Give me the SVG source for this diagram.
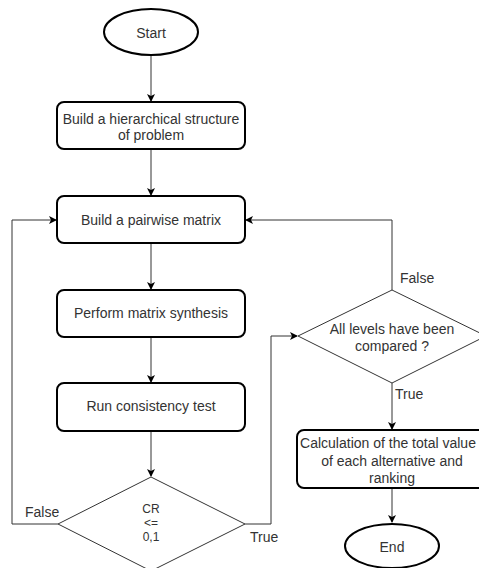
<svg xmlns="http://www.w3.org/2000/svg" width="479" height="568" viewBox="0 0 479 568">
<defs>
<marker id="arr" markerWidth="8" markerHeight="8" refX="7" refY="4" orient="auto" markerUnits="userSpaceOnUse">
<path d="M0,0 L8,4 L0,8 L2,4 Z" fill="#000"/>
</marker>
<style>
.box{fill:#fff;stroke:#000;stroke-width:2}
.dia{fill:#fff;stroke:#333;stroke-width:1}
.t{font-family:"Liberation Sans",Arial,sans-serif;font-size:14px;fill:#333;text-anchor:middle}
.s{font-size:12px}
.lbl{font-family:"Liberation Sans",Arial,sans-serif;font-size:14px;fill:#333}
.c{fill:none;stroke:#333;stroke-width:1}
</style>
</defs>
<rect width="479" height="568" fill="#fff"/>
<g id="connectors">
<path class="c" d="M151,55 V101" marker-end="url(#arr)"/>
<path class="c" d="M151,149 V195" marker-end="url(#arr)"/>
<path class="c" d="M151,243 V289" marker-end="url(#arr)"/>
<path class="c" d="M151,337 V382" marker-end="url(#arr)"/>
<path class="c" d="M151,431 V476" marker-end="url(#arr)"/>
<path class="c" d="M58,524 H12 V220 H56" marker-end="url(#arr)"/>
<path class="c" d="M245,524 H271 V336 H297" marker-end="url(#arr)"/>
<path class="c" d="M392,290 V220 H246" marker-end="url(#arr)"/>
<path class="c" d="M392,383 V429" marker-end="url(#arr)"/>
<path class="c" d="M392,488 V522" marker-end="url(#arr)"/>
<text class="lbl" x="25" y="517">False</text>
<text class="lbl" x="250" y="542">True</text>
<text class="lbl" x="400" y="283">False</text>
<text class="lbl" x="395" y="399">True</text>
</g>
<g id="start">
<ellipse class="box" cx="151" cy="32" rx="47" ry="23"/>
<text class="t" x="151" y="38">Start</text>
</g>
<g id="hierarchy">
<rect class="box" x="57" y="102" width="188" height="47" rx="7"/>
<text class="t" x="151" y="124">Build a hierarchical structure</text>
<text class="t" x="151" y="140">of problem</text>
</g>
<g id="pairwise">
<rect class="box" x="57" y="196" width="188" height="47" rx="7"/>
<text class="t" x="151" y="225">Build a pairwise matrix</text>
</g>
<g id="synthesis">
<rect class="box" x="57" y="290" width="188" height="47" rx="7"/>
<text class="t" x="151" y="318">Perform matrix synthesis</text>
</g>
<g id="consistency">
<rect class="box" x="57" y="383" width="188" height="48" rx="7"/>
<text class="t" x="151" y="411">Run consistency test</text>
</g>
<g id="cr">
<polygon class="dia" points="151,477 245,524 151,571 58,524"/>
<text class="t s" x="151" y="513">CR</text>
<text class="t s" x="151" y="527">&lt;=</text>
<text class="t s" x="151" y="541">0,1</text>
</g>
<g id="levels">
<polygon class="dia" points="392,290 486,336 392,383 298,336"/>
<text class="t" x="392" y="334">All levels have been</text>
<text class="t" x="392" y="351">compared ?</text>
</g>
<g id="calc">
<rect class="box" x="297" y="430" width="190" height="58" rx="7"/>
<text class="t" x="388" y="448">Calculation of the total value</text>
<text class="t" x="392" y="466">of each alternative and</text>
<text class="t" x="392" y="483">ranking</text>
</g>
<g id="end">
<ellipse class="box" cx="392" cy="546" rx="47" ry="22"/>
<text class="t" x="392" y="552">End</text>
</g>
</svg>
